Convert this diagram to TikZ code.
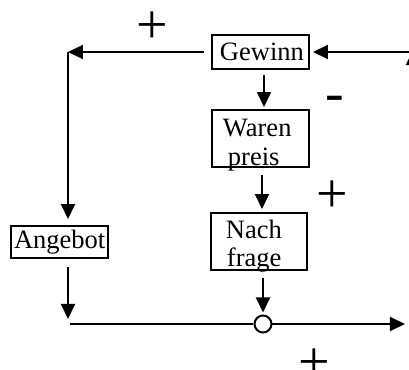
\documentclass[tikz,border=0pt]{standalone}
\usepackage{fontspec}
\setmainfont{Liberation Serif}
\usetikzlibrary{arrows.meta}
\begin{document}
\begin{tikzpicture}[x=0.5pt,y=-0.5pt,line width=1pt,
  box/.style={draw,line width=1pt,inner sep=0pt,minimum width=#1},
  lbl/.style={inner sep=0pt,anchor=base west,font=\fontsize{13.25}{15}\selectfont},
  sign/.style={inner sep=0pt,anchor=base,font=\fontsize{28}{30}\selectfont},
  arr/.style={-{Triangle[length=7.5pt,width=7pt]}},
  junction/.style={circle,draw,fill=white,inner sep=0pt,minimum size=8.5pt}]
\useasboundingbox (0,0) rectangle (409,370);

% boxes
\node[box=48.5pt,minimum height=17pt]   (gewinn)  at (260.5,52)  {};
\node[box=48.5pt,minimum height=28.5pt] (waren)   at (260.5,138.5) {};
\node[box=48pt,minimum height=28.5pt]   (nach)    at (259,241.5) {};
\node[box=48.5pt,minimum height=16pt]   (angebot) at (59.5,242)  {};
\node[junction] (sum) at (263,324) {};

% box texts
\node[lbl] (tg) at (219,60)  {Gewinn};
\node[lbl] (tw) at (222,136) {Waren};
\node[lbl] (tp) at (227,165) {preis};
\node[lbl] (tn) at (225,238) {Nach};
\node[lbl] (tf) at (226,266) {frage};
\node[lbl] (ta) at (13,249)  {Angebot};

% corner and edge points
\coordinate (tl) at (68,52);
\coordinate (bl) at (68,324);
\coordinate (br) at (405,324);
\coordinate (rt) at (413,52);
\coordinate (rtop) at (413,50);
\coordinate (rb) at (413,324);

% connectors
\draw[arr,shorten <=3.5pt] (gewinn.west) -- (tl);
\draw[arr,shorten >=3pt] (tl) -- (angebot.north -| tl);
\draw[arr,shorten <=4pt,shorten >=2.5pt] (angebot.south -| bl) -- (bl);
\draw[shorten <=1pt] (bl) -- (sum.west);
\draw[arr] (sum.east) -- (br);
\draw[arr,shorten >=1.5pt] (rt) -- (gewinn.east);
\draw[arr] (rb) -- (rtop);
\draw[arr,shorten <=2.5pt,shorten >=1pt] ([xshift=1.75pt]gewinn.south) -- ([xshift=1.75pt]waren.north);
\draw[arr,shorten <=3.5pt,shorten >=1.5pt] ([xshift=0.75pt]waren.south) -- ([xshift=0.75pt]waren.south |- nach.north);
\draw[arr,shorten <=3.5pt,shorten >=1pt] (nach.south -| sum) -- (sum.north);

% polarity signs
\node[sign] (p1) at (152,43.5)  {+};
\node[sign] (m1) at (335,111) {-};
\node[sign] (p2) at (332,212.5) {+};
\node[sign] (p3) at (314,380) {+};
\end{tikzpicture}
\end{document}
